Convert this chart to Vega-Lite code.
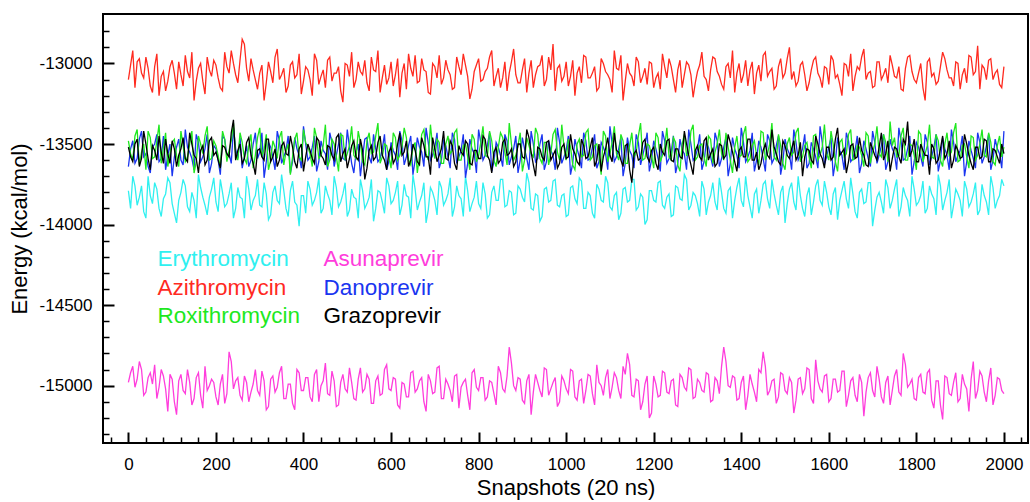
{
"$schema": "https://vega.github.io/schema/vega-lite/v6.json",
"width": 925, "height": 429,
"autosize": {"type": "none"},
"padding": {"left": 103, "top": 14, "right": 2, "bottom": 59},
"background": "white",
"config": {
  "font": "Liberation Sans",
  "view": {"stroke": "black", "strokeWidth": 2},
  "axis": {"grid": false, "domain": false, "tickColor": "black", "labelColor": "black", "titleColor": "black", "labelFontSize": 17, "titleFontWeight": "normal", "labelFont": "Liberation Sans", "titleFont": "Liberation Sans"}
},
"layer": [
{
"data": {"values": [
{"x":0,"E":-13790,"A":-13100,"R":-13480,"S":-14980,"D":-13640,"G":-13520},
{"x":10,"E":-13700,"A":-12920,"R":-13600,"S":-14880,"D":-13480,"G":-13610},
{"x":20,"E":-13880,"A":-12990,"R":-13410,"S":-14960,"D":-13590,"G":-13470},
{"x":30,"E":-13760,"A":-13060,"R":-13550,"S":-14900,"D":-13420,"G":-13590},
{"x":40,"E":-13960,"A":-12960,"R":-13660,"S":-15040,"D":-13560,"G":-13500},
{"x":50,"E":-13820,"A":-13140,"R":-13460,"S":-14920,"D":-13680,"G":-13660},
{"x":60,"E":-13740,"A":-13020,"R":-13580,"S":-14870,"D":-13500,"G":-13540},
{"x":70,"E":-13900,"A":-13200,"R":-13380,"S":-15010,"D":-13610,"G":-13450},
{"x":80,"E":-13840,"A":-13050,"R":-13520,"S":-14940,"D":-13450,"G":-13620},
{"x":90,"E":-13710,"A":-13110,"R":-13640,"S":-15160,"D":-13570,"G":-13560},
{"x":100,"E":-13870,"A":-12980,"R":-13490,"S":-14960,"D":-13700,"G":-13480},
{"x":110,"E":-13990,"A":-13160,"R":-13570,"S":-15180,"D":-13520,"G":-13640},
{"x":120,"E":-13800,"A":-13070,"R":-13420,"S":-14930,"D":-13600,"G":-13530},
{"x":130,"E":-13760,"A":-12950,"R":-13610,"S":-15050,"D":-13410,"G":-13590},
{"x":140,"E":-13920,"A":-13090,"R":-13500,"S":-14980,"D":-13550,"G":-13430},
{"x":150,"E":-13850,"A":-13230,"R":-13680,"S":-15080,"D":-13660,"G":-13570},
{"x":160,"E":-13690,"A":-13030,"R":-13450,"S":-14920,"D":-13490,"G":-13680},
{"x":170,"E":-13830,"A":-13110,"R":-13560,"S":-15140,"D":-13580,"G":-13510},
{"x":180,"E":-13940,"A":-12960,"R":-13390,"S":-15030,"D":-13440,"G":-13600},
{"x":190,"E":-13780,"A":-13080,"R":-13590,"S":-14960,"D":-13620,"G":-13460},
{"x":200,"E":-13860,"A":-13010,"R":-13510,"S":-15070,"D":-13530,"G":-13550},
{"x":210,"E":-13720,"A":-13150,"R":-13650,"S":-14990,"D":-13690,"G":-13650},
{"x":220,"E":-13890,"A":-12930,"R":-13470,"S":-15110,"D":-13470,"G":-13520},
{"x":230,"E":-13810,"A":-13060,"R":-13540,"S":-14790,"D":-13560,"G":-13580},
{"x":240,"E":-13960,"A":-13000,"R":-13370,"S":-15020,"D":-13400,"G":-13350},
{"x":250,"E":-13770,"A":-13120,"R":-13600,"S":-14950,"D":-13590,"G":-13540},
{"x":260,"E":-13840,"A":-12850,"R":-13490,"S":-15090,"D":-13650,"G":-13620},
{"x":270,"E":-13700,"A":-13030,"R":-13620,"S":-14980,"D":-13510,"G":-13490},
{"x":280,"E":-13910,"A":-12970,"R":-13440,"S":-15040,"D":-13600,"G":-13570},
{"x":290,"E":-13820,"A":-13100,"R":-13570,"S":-14900,"D":-13430,"G":-13690},
{"x":300,"E":-13880,"A":-13060,"R":-13400,"S":-15060,"D":-13550,"G":-13530},
{"x":310,"E":-13740,"A":-13230,"R":-13530,"S":-14970,"D":-13710,"G":-13600},
{"x":320,"E":-13970,"A":-12990,"R":-13660,"S":-15130,"D":-13490,"G":-13470},
{"x":330,"E":-13800,"A":-13120,"R":-13480,"S":-14940,"D":-13580,"G":-13580},
{"x":340,"E":-13850,"A":-12910,"R":-13590,"S":-15010,"D":-13420,"G":-13640},
{"x":350,"E":-13690,"A":-13070,"R":-13420,"S":-14880,"D":-13620,"G":-13510},
{"x":360,"E":-13900,"A":-13180,"R":-13550,"S":-15080,"D":-13540,"G":-13560},
{"x":370,"E":-13790,"A":-13010,"R":-13690,"S":-14990,"D":-13680,"G":-13450},
{"x":380,"E":-13860,"A":-13090,"R":-13470,"S":-15150,"D":-13460,"G":-13610},
{"x":390,"E":-14010,"A":-12940,"R":-13580,"S":-14920,"D":-13570,"G":-13530},
{"x":400,"E":-13820,"A":-13110,"R":-13410,"S":-15030,"D":-13390,"G":-13670},
{"x":410,"E":-13730,"A":-13040,"R":-13520,"S":-14950,"D":-13600,"G":-13500},
{"x":420,"E":-13880,"A":-13200,"R":-13640,"S":-15100,"D":-13520,"G":-13590},
{"x":430,"E":-13800,"A":-12980,"R":-13460,"S":-14900,"D":-13670,"G":-13460},
{"x":440,"E":-13930,"A":-13080,"R":-13570,"S":-15000,"D":-13480,"G":-13570},
{"x":450,"E":-13760,"A":-13150,"R":-13380,"S":-14860,"D":-13560,"G":-13630},
{"x":460,"E":-13850,"A":-12960,"R":-13600,"S":-15060,"D":-13430,"G":-13520},
{"x":470,"E":-13700,"A":-13060,"R":-13500,"S":-14970,"D":-13640,"G":-13600},
{"x":480,"E":-13890,"A":-13020,"R":-13670,"S":-15120,"D":-13500,"G":-13440},
{"x":490,"E":-13810,"A":-13240,"R":-13450,"S":-14930,"D":-13590,"G":-13560},
{"x":500,"E":-13950,"A":-13010,"R":-13560,"S":-15040,"D":-13410,"G":-13650},
{"x":510,"E":-13780,"A":-12930,"R":-13390,"S":-14980,"D":-13620,"G":-13510},
{"x":520,"E":-13840,"A":-13100,"R":-13590,"S":-15090,"D":-13550,"G":-13580},
{"x":530,"E":-13720,"A":-13050,"R":-13490,"S":-14890,"D":-13700,"G":-13470},
{"x":540,"E":-13900,"A":-12980,"R":-13630,"S":-15020,"D":-13470,"G":-13720},
{"x":550,"E":-13830,"A":-13170,"R":-13430,"S":-14960,"D":-13580,"G":-13540},
{"x":560,"E":-13980,"A":-13040,"R":-13550,"S":-15110,"D":-13440,"G":-13600},
{"x":570,"E":-13790,"A":-12920,"R":-13370,"S":-14940,"D":-13610,"G":-13490},
{"x":580,"E":-13860,"A":-13090,"R":-13580,"S":-15050,"D":-13530,"G":-13570},
{"x":590,"E":-13710,"A":-13130,"R":-13510,"S":-14870,"D":-13660,"G":-13660},
{"x":600,"E":-13870,"A":-12990,"R":-13650,"S":-15030,"D":-13490,"G":-13520},
{"x":610,"E":-13800,"A":-13070,"R":-13460,"S":-14960,"D":-13570,"G":-13590},
{"x":620,"E":-13940,"A":-13210,"R":-13570,"S":-15140,"D":-13420,"G":-13430},
{"x":630,"E":-13750,"A":-13000,"R":-13400,"S":-14990,"D":-13630,"G":-13550},
{"x":640,"E":-13830,"A":-12940,"R":-13600,"S":-15070,"D":-13510,"G":-13640},
{"x":650,"E":-13690,"A":-13080,"R":-13520,"S":-14910,"D":-13690,"G":-13500},
{"x":660,"E":-13910,"A":-13120,"R":-13680,"S":-15020,"D":-13460,"G":-13610},
{"x":670,"E":-13820,"A":-12970,"R":-13440,"S":-14950,"D":-13550,"G":-13460},
{"x":680,"E":-13990,"A":-13050,"R":-13560,"S":-15160,"D":-13400,"G":-13580},
{"x":690,"E":-13770,"A":-13190,"R":-13380,"S":-14970,"D":-13600,"G":-13690},
{"x":700,"E":-13850,"A":-13020,"R":-13590,"S":-15040,"D":-13520,"G":-13530},
{"x":710,"E":-13730,"A":-12950,"R":-13490,"S":-14880,"D":-13650,"G":-13570},
{"x":720,"E":-13880,"A":-13090,"R":-13620,"S":-15080,"D":-13480,"G":-13420},
{"x":730,"E":-13810,"A":-13040,"R":-13450,"S":-14990,"D":-13580,"G":-13600},
{"x":740,"E":-13950,"A":-13160,"R":-13540,"S":-15100,"D":-13430,"G":-13510},
{"x":750,"E":-13760,"A":-12960,"R":-13410,"S":-14930,"D":-13620,"G":-13660},
{"x":760,"E":-13840,"A":-13070,"R":-13600,"S":-15010,"D":-13540,"G":-13550},
{"x":770,"E":-13700,"A":-13010,"R":-13500,"S":-14960,"D":-13710,"G":-13480},
{"x":780,"E":-13920,"A":-13220,"R":-13660,"S":-15150,"D":-13470,"G":-13620},
{"x":790,"E":-13830,"A":-13050,"R":-13470,"S":-14900,"D":-13560,"G":-13540},
{"x":800,"E":-13870,"A":-12970,"R":-13570,"S":-15030,"D":-13410,"G":-13590},
{"x":810,"E":-13740,"A":-13100,"R":-13390,"S":-14950,"D":-13600,"G":-13450},
{"x":820,"E":-13960,"A":-13030,"R":-13580,"S":-15070,"D":-13510,"G":-13570},
{"x":830,"E":-13800,"A":-12920,"R":-13480,"S":-14980,"D":-13670,"G":-13680},
{"x":840,"E":-13850,"A":-13080,"R":-13640,"S":-15120,"D":-13490,"G":-13520},
{"x":850,"E":-13720,"A":-13150,"R":-13430,"S":-14920,"D":-13570,"G":-13600},
{"x":860,"E":-13890,"A":-12990,"R":-13550,"S":-15040,"D":-13440,"G":-13470},
{"x":870,"E":-13790,"A":-13060,"R":-13370,"S":-14760,"D":-13630,"G":-13560},
{"x":880,"E":-13940,"A":-12910,"R":-13600,"S":-15000,"D":-13530,"G":-13640},
{"x":890,"E":-13760,"A":-13120,"R":-13510,"S":-14950,"D":-13680,"G":-13500},
{"x":900,"E":-13830,"A":-13040,"R":-13670,"S":-15090,"D":-13460,"G":-13580},
{"x":910,"E":-13680,"A":-13180,"R":-13460,"S":-14970,"D":-13590,"G":-13410},
{"x":920,"E":-13900,"A":-12980,"R":-13560,"S":-15180,"D":-13420,"G":-13550},
{"x":930,"E":-13810,"A":-13070,"R":-13400,"S":-14930,"D":-13610,"G":-13700},
{"x":940,"E":-13980,"A":-13010,"R":-13590,"S":-15030,"D":-13500,"G":-13530},
{"x":950,"E":-13780,"A":-13140,"R":-13490,"S":-14890,"D":-13660,"G":-13600},
{"x":960,"E":-13860,"A":-12960,"R":-13630,"S":-15060,"D":-13480,"G":-13480},
{"x":970,"E":-13730,"A":-12880,"R":-13440,"S":-14980,"D":-13570,"G":-13570},
{"x":980,"E":-13880,"A":-13030,"R":-13550,"S":-15130,"D":-13400,"G":-13650},
{"x":990,"E":-13820,"A":-13110,"R":-13380,"S":-14940,"D":-13620,"G":-13520},
{"x":1000,"E":-13950,"A":-12990,"R":-13600,"S":-15020,"D":-13540,"G":-13590},
{"x":1010,"E":-13770,"A":-13080,"R":-13520,"S":-14900,"D":-13690,"G":-13440},
{"x":1020,"E":-13840,"A":-13200,"R":-13660,"S":-15070,"D":-13470,"G":-13560},
{"x":1030,"E":-13710,"A":-13020,"R":-13470,"S":-14970,"D":-13580,"G":-13630},
{"x":1040,"E":-13900,"A":-12950,"R":-13570,"S":-15110,"D":-13430,"G":-13510},
{"x":1050,"E":-13800,"A":-13090,"R":-13410,"S":-14930,"D":-13600,"G":-13580},
{"x":1060,"E":-13930,"A":-13060,"R":-13580,"S":-15050,"D":-13520,"G":-13460},
{"x":1070,"E":-13750,"A":-13170,"R":-13500,"S":-14870,"D":-13650,"G":-13600},
{"x":1080,"E":-13850,"A":-12970,"R":-13690,"S":-15000,"D":-13490,"G":-13670},
{"x":1090,"E":-13700,"A":-13050,"R":-13450,"S":-14950,"D":-13560,"G":-13530},
{"x":1100,"E":-13890,"A":-13100,"R":-13560,"S":-15080,"D":-13390,"G":-13570},
{"x":1110,"E":-13820,"A":-12920,"R":-13390,"S":-14920,"D":-13610,"G":-13430},
{"x":1120,"E":-13970,"A":-13040,"R":-13600,"S":-15030,"D":-13530,"G":-13550},
{"x":1130,"E":-13780,"A":-13230,"R":-13480,"S":-14880,"D":-13700,"G":-13640},
{"x":1140,"E":-13860,"A":-13000,"R":-13620,"S":-14800,"D":-13460,"G":-13500},
{"x":1150,"E":-13720,"A":-13080,"R":-13430,"S":-15060,"D":-13570,"G":-13740},
{"x":1160,"E":-13910,"A":-12960,"R":-13550,"S":-14960,"D":-13440,"G":-13540},
{"x":1170,"E":-13810,"A":-13120,"R":-13370,"S":-15150,"D":-13630,"G":-13590},
{"x":1180,"E":-14000,"A":-13030,"R":-13590,"S":-14990,"D":-13510,"G":-13470},
{"x":1190,"E":-13790,"A":-12990,"R":-13510,"S":-15200,"D":-13670,"G":-13610},
{"x":1200,"E":-13850,"A":-13150,"R":-13650,"S":-14940,"D":-13480,"G":-13520},
{"x":1210,"E":-13740,"A":-13060,"R":-13460,"S":-15070,"D":-13590,"G":-13660},
{"x":1220,"E":-13880,"A":-12940,"R":-13570,"S":-14910,"D":-13420,"G":-13550},
{"x":1230,"E":-13830,"A":-13090,"R":-13400,"S":-15040,"D":-13620,"G":-13480},
{"x":1240,"E":-13950,"A":-13020,"R":-13600,"S":-14970,"D":-13550,"G":-13600},
{"x":1250,"E":-13760,"A":-13180,"R":-13490,"S":-15120,"D":-13680,"G":-13530},
{"x":1260,"E":-13840,"A":-12980,"R":-13670,"S":-14930,"D":-13470,"G":-13580},
{"x":1270,"E":-13690,"A":-13070,"R":-13440,"S":-15010,"D":-13560,"G":-13420},
{"x":1280,"E":-13910,"A":-13010,"R":-13560,"S":-14890,"D":-13410,"G":-13570},
{"x":1290,"E":-13800,"A":-13210,"R":-13380,"S":-15080,"D":-13600,"G":-13690},
{"x":1300,"E":-13870,"A":-13050,"R":-13580,"S":-14960,"D":-13530,"G":-13510},
{"x":1310,"E":-13730,"A":-12930,"R":-13500,"S":-15030,"D":-13660,"G":-13600},
{"x":1320,"E":-13940,"A":-13100,"R":-13640,"S":-14920,"D":-13490,"G":-13460},
{"x":1330,"E":-13820,"A":-13040,"R":-13470,"S":-15100,"D":-13580,"G":-13560},
{"x":1340,"E":-13860,"A":-12970,"R":-13550,"S":-14950,"D":-13430,"G":-13640},
{"x":1350,"E":-13710,"A":-13080,"R":-13410,"S":-15050,"D":-13640,"G":-13500},
{"x":1360,"E":-13900,"A":-13160,"R":-13600,"S":-14760,"D":-13520,"G":-13590},
{"x":1370,"E":-13790,"A":-13000,"R":-13520,"S":-15000,"D":-13700,"G":-13440},
{"x":1380,"E":-13960,"A":-12920,"R":-13680,"S":-14940,"D":-13460,"G":-13550},
{"x":1390,"E":-13770,"A":-13060,"R":-13450,"S":-15090,"D":-13570,"G":-13670},
{"x":1400,"E":-13850,"A":-13120,"R":-13570,"S":-14980,"D":-13400,"G":-13520},
{"x":1410,"E":-13700,"A":-12980,"R":-13390,"S":-15150,"D":-13610,"G":-13580},
{"x":1420,"E":-13890,"A":-13040,"R":-13590,"S":-14930,"D":-13540,"G":-13470},
{"x":1430,"E":-13810,"A":-13190,"R":-13480,"S":-15040,"D":-13670,"G":-13600},
{"x":1440,"E":-13930,"A":-13010,"R":-13630,"S":-14900,"D":-13480,"G":-13660},
{"x":1450,"E":-13750,"A":-12950,"R":-13430,"S":-14790,"D":-13590,"G":-13540},
{"x":1460,"E":-13840,"A":-13080,"R":-13560,"S":-15060,"D":-13440,"G":-13570},
{"x":1470,"E":-13720,"A":-13030,"R":-13370,"S":-14970,"D":-13620,"G":-13410},
{"x":1480,"E":-13880,"A":-13140,"R":-13600,"S":-15110,"D":-13510,"G":-13560},
{"x":1490,"E":-13800,"A":-12970,"R":-13510,"S":-14920,"D":-13690,"G":-13630},
{"x":1500,"E":-13990,"A":-13060,"R":-13660,"S":-15030,"D":-13470,"G":-13510},
{"x":1510,"E":-13780,"A":-12900,"R":-13460,"S":-14950,"D":-13560,"G":-13590},
{"x":1520,"E":-13860,"A":-13050,"R":-13550,"S":-15170,"D":-13410,"G":-13480},
{"x":1530,"E":-13700,"A":-13110,"R":-13400,"S":-14960,"D":-13600,"G":-13570},
{"x":1540,"E":-13900,"A":-12990,"R":-13580,"S":-15050,"D":-13530,"G":-13700},
{"x":1550,"E":-13820,"A":-13170,"R":-13490,"S":-14890,"D":-13650,"G":-13530},
{"x":1560,"E":-13940,"A":-13040,"R":-13650,"S":-15080,"D":-13490,"G":-13600},
{"x":1570,"E":-13760,"A":-12960,"R":-13440,"S":-14840,"D":-13580,"G":-13450},
{"x":1580,"E":-13850,"A":-13090,"R":-13570,"S":-15020,"D":-13390,"G":-13560},
{"x":1590,"E":-13730,"A":-13020,"R":-13380,"S":-14940,"D":-13630,"G":-13650},
{"x":1600,"E":-13890,"A":-13130,"R":-13600,"S":-15100,"D":-13520,"G":-13520},
{"x":1610,"E":-13810,"A":-12980,"R":-13500,"S":-14960,"D":-13700,"G":-13580},
{"x":1620,"E":-13970,"A":-13070,"R":-13670,"S":-15040,"D":-13460,"G":-13400},
{"x":1630,"E":-13790,"A":-13200,"R":-13470,"S":-14910,"D":-13570,"G":-13550},
{"x":1640,"E":-13840,"A":-13010,"R":-13560,"S":-15130,"D":-13430,"G":-13680},
{"x":1650,"E":-13710,"A":-12940,"R":-13410,"S":-14970,"D":-13610,"G":-13510},
{"x":1660,"E":-13920,"A":-13080,"R":-13590,"S":-15060,"D":-13540,"G":-13590},
{"x":1670,"E":-13800,"A":-13040,"R":-13520,"S":-14930,"D":-13680,"G":-13460},
{"x":1680,"E":-13870,"A":-12910,"R":-13640,"S":-15190,"D":-13480,"G":-13570},
{"x":1690,"E":-13740,"A":-13060,"R":-13450,"S":-14950,"D":-13590,"G":-13640},
{"x":1700,"E":-14010,"A":-13150,"R":-13550,"S":-15030,"D":-13420,"G":-13530},
{"x":1710,"E":-13830,"A":-12990,"R":-13390,"S":-14880,"D":-13620,"G":-13600},
{"x":1720,"E":-13860,"A":-13100,"R":-13580,"S":-15070,"D":-13510,"G":-13430},
{"x":1730,"E":-13720,"A":-13030,"R":-13490,"S":-14980,"D":-13660,"G":-13560},
{"x":1740,"E":-13900,"A":-12950,"R":-13360,"S":-15120,"D":-13470,"G":-13670},
{"x":1750,"E":-13780,"A":-13080,"R":-13460,"S":-14940,"D":-13560,"G":-13520},
{"x":1760,"E":-13950,"A":-13020,"R":-13570,"S":-15040,"D":-13400,"G":-13580},
{"x":1770,"E":-13770,"A":-13170,"R":-13400,"S":-14800,"D":-13600,"G":-13470},
{"x":1780,"E":-13850,"A":-12960,"R":-13600,"S":-15010,"D":-13530,"G":-13360},
{"x":1790,"E":-13700,"A":-13050,"R":-13510,"S":-14960,"D":-13690,"G":-13540},
{"x":1800,"E":-13880,"A":-13120,"R":-13660,"S":-15090,"D":-13490,"G":-13610},
{"x":1810,"E":-13820,"A":-13000,"R":-13440,"S":-14930,"D":-13580,"G":-13500},
{"x":1820,"E":-13930,"A":-13230,"R":-13560,"S":-15050,"D":-13440,"G":-13570},
{"x":1830,"E":-13760,"A":-12970,"R":-13380,"S":-14900,"D":-13630,"G":-13690},
{"x":1840,"E":-13840,"A":-13060,"R":-13590,"S":-15140,"D":-13520,"G":-13530},
{"x":1850,"E":-13690,"A":-13110,"R":-13480,"S":-14970,"D":-13670,"G":-13600},
{"x":1860,"E":-13910,"A":-12930,"R":-13640,"S":-15210,"D":-13460,"G":-13450},
{"x":1870,"E":-13800,"A":-13040,"R":-13430,"S":-14950,"D":-13570,"G":-13560},
{"x":1880,"E":-13960,"A":-13090,"R":-13550,"S":-15060,"D":-13410,"G":-13650},
{"x":1890,"E":-13780,"A":-12990,"R":-13370,"S":-14920,"D":-13610,"G":-13510},
{"x":1900,"E":-13850,"A":-13160,"R":-13600,"S":-15080,"D":-13540,"G":-13590},
{"x":1910,"E":-13730,"A":-13030,"R":-13500,"S":-14990,"D":-13700,"G":-13440},
{"x":1920,"E":-13890,"A":-12950,"R":-13650,"S":-15160,"D":-13480,"G":-13570},
{"x":1930,"E":-13810,"A":-13070,"R":-13460,"S":-14850,"D":-13590,"G":-13660},
{"x":1940,"E":-13940,"A":-12890,"R":-13570,"S":-15030,"D":-13430,"G":-13520},
{"x":1950,"E":-13750,"A":-13010,"R":-13410,"S":-14940,"D":-13620,"G":-13580},
{"x":1960,"E":-13860,"A":-13100,"R":-13580,"S":-15100,"D":-13510,"G":-13480},
{"x":1970,"E":-13700,"A":-12970,"R":-13490,"S":-14890,"D":-13660,"G":-13610},
{"x":1980,"E":-13900,"A":-13060,"R":-13630,"S":-15060,"D":-13470,"G":-13540},
{"x":1990,"E":-13820,"A":-13130,"R":-13450,"S":-14960,"D":-13560,"G":-13620},
{"x":2000,"E":-13760,"A":-13020,"R":-13520,"S":-15050,"D":-13420,"G":-13560},
{"x":5,"E":-13900,"A":-13010,"R":-13560,"S":-14920,"D":-13530,"G":-13580},
{"x":15,"E":-13760,"A":-13150,"R":-13450,"S":-15010,"D":-13620,"G":-13500},
{"x":25,"E":-13830,"A":-12970,"R":-13630,"S":-14850,"D":-13470,"G":-13640},
{"x":35,"E":-13920,"A":-13090,"R":-13500,"S":-15060,"D":-13580,"G":-13420},
{"x":45,"E":-13700,"A":-13030,"R":-13420,"S":-14950,"D":-13640,"G":-13590},
{"x":55,"E":-13870,"A":-13180,"R":-13590,"S":-14990,"D":-13520,"G":-13510},
{"x":65,"E":-13780,"A":-12940,"R":-13480,"S":-15080,"D":-13440,"G":-13600},
{"x":75,"E":-13950,"A":-13080,"R":-13620,"S":-14900,"D":-13590,"G":-13550},
{"x":85,"E":-13810,"A":-13170,"R":-13430,"S":-15020,"D":-13660,"G":-13470},
{"x":95,"E":-13740,"A":-13020,"R":-13560,"S":-14930,"D":-13500,"G":-13620},
{"x":105,"E":-13930,"A":-13060,"R":-13470,"S":-15100,"D":-13580,"G":-13530},
{"x":115,"E":-13850,"A":-12990,"R":-13640,"S":-14970,"D":-13470,"G":-13570},
{"x":125,"E":-13720,"A":-13140,"R":-13510,"S":-15030,"D":-13630,"G":-13460},
{"x":135,"E":-13890,"A":-13050,"R":-13580,"S":-14900,"D":-13520,"G":-13610},
{"x":145,"E":-13800,"A":-12930,"R":-13420,"S":-15120,"D":-13590,"G":-13500},
{"x":155,"E":-13960,"A":-13110,"R":-13610,"S":-14950,"D":-13440,"G":-13590},
{"x":165,"E":-13770,"A":-13000,"R":-13500,"S":-15060,"D":-13610,"G":-13540},
{"x":175,"E":-13880,"A":-13190,"R":-13450,"S":-14880,"D":-13530,"G":-13630},
{"x":185,"E":-13830,"A":-13040,"R":-13600,"S":-15000,"D":-13680,"G":-13480},
{"x":195,"E":-13710,"A":-12980,"R":-13480,"S":-14980,"D":-13510,"G":-13570},
{"x":205,"E":-13920,"A":-13090,"R":-13570,"S":-15120,"D":-13600,"G":-13600},
{"x":215,"E":-13800,"A":-13170,"R":-13420,"S":-14930,"D":-13450,"G":-13510},
{"x":225,"E":-13870,"A":-13020,"R":-13610,"S":-15050,"D":-13570,"G":-13560},
{"x":235,"E":-13740,"A":-12920,"R":-13480,"S":-14850,"D":-13620,"G":-13430},
{"x":245,"E":-13900,"A":-13070,"R":-13560,"S":-14970,"D":-13530,"G":-13600},
{"x":255,"E":-13830,"A":-12980,"R":-13430,"S":-15060,"D":-13460,"G":-13500},
{"x":265,"E":-13960,"A":-12880,"R":-13590,"S":-14940,"D":-13580,"G":-13590},
{"x":275,"E":-13780,"A":-13110,"R":-13510,"S":-15100,"D":-13640,"G":-13460},
{"x":285,"E":-13850,"A":-13040,"R":-13650,"S":-14990,"D":-13500,"G":-13620},
{"x":295,"E":-13720,"A":-13160,"R":-13460,"S":-15030,"D":-13590,"G":-13540},
{"x":305,"E":-13890,"A":-13010,"R":-13580,"S":-14910,"D":-13430,"G":-13580},
{"x":315,"E":-13810,"A":-13120,"R":-13440,"S":-15150,"D":-13610,"G":-13470},
{"x":325,"E":-13940,"A":-13050,"R":-13600,"S":-14960,"D":-13520,"G":-13610},
{"x":335,"E":-13760,"A":-12960,"R":-13520,"S":-15040,"D":-13660,"G":-13530},
{"x":345,"E":-13870,"A":-13100,"R":-13460,"S":-14920,"D":-13480,"G":-13600},
{"x":355,"E":-13790,"A":-13030,"R":-13630,"S":-15080,"D":-13580,"G":-13490},
{"x":365,"E":-13950,"A":-13140,"R":-13500,"S":-14990,"D":-13450,"G":-13570},
{"x":375,"E":-13730,"A":-12990,"R":-13580,"S":-15110,"D":-13610,"G":-13520},
{"x":385,"E":-13880,"A":-13070,"R":-13430,"S":-14900,"D":-13530,"G":-13650},
{"x":395,"E":-13820,"A":-13190,"R":-13600,"S":-15030,"D":-13650,"G":-13500},
{"x":405,"E":-13930,"A":-13020,"R":-13490,"S":-14950,"D":-13500,"G":-13580},
{"x":415,"E":-13780,"A":-13100,"R":-13560,"S":-15070,"D":-13580,"G":-13540},
{"x":425,"E":-13850,"A":-12940,"R":-13400,"S":-14930,"D":-13450,"G":-13620},
{"x":435,"E":-13710,"A":-13130,"R":-13590,"S":-15100,"D":-13610,"G":-13480},
{"x":445,"E":-13900,"A":-13040,"R":-13510,"S":-14970,"D":-13540,"G":-13590},
{"x":455,"E":-13810,"A":-12980,"R":-13640,"S":-15050,"D":-13660,"G":-13510},
{"x":465,"E":-13940,"A":-13110,"R":-13470,"S":-14910,"D":-13490,"G":-13570},
{"x":475,"E":-13770,"A":-13060,"R":-13580,"S":-15130,"D":-13570,"G":-13460},
{"x":485,"E":-13860,"A":-13170,"R":-13440,"S":-14980,"D":-13430,"G":-13610},
{"x":495,"E":-13740,"A":-13000,"R":-13600,"S":-15020,"D":-13600,"G":-13530},
{"x":505,"E":-13910,"A":-13080,"R":-13510,"S":-14890,"D":-13520,"G":-13590},
{"x":515,"E":-13830,"A":-13150,"R":-13570,"S":-15080,"D":-13680,"G":-13480},
{"x":525,"E":-13960,"A":-12990,"R":-13420,"S":-14960,"D":-13500,"G":-13600},
{"x":535,"E":-13790,"A":-13070,"R":-13610,"S":-15040,"D":-13580,"G":-13540},
{"x":545,"E":-13870,"A":-13120,"R":-13480,"S":-14930,"D":-13460,"G":-13650},
{"x":555,"E":-13720,"A":-12960,"R":-13560,"S":-15110,"D":-13620,"G":-13510},
{"x":565,"E":-13900,"A":-13050,"R":-13450,"S":-14970,"D":-13530,"G":-13580},
{"x":575,"E":-13800,"A":-13180,"R":-13620,"S":-15060,"D":-13590,"G":-13450},
{"x":585,"E":-13930,"A":-13010,"R":-13500,"S":-14900,"D":-13440,"G":-13600},
{"x":595,"E":-13760,"A":-13090,"R":-13580,"S":-15020,"D":-13610,"G":-13550},
{"x":605,"E":-13850,"A":-13140,"R":-13430,"S":-14950,"D":-13540,"G":-13620},
{"x":615,"E":-13730,"A":-12970,"R":-13600,"S":-15120,"D":-13660,"G":-13500},
{"x":625,"E":-13880,"A":-13060,"R":-13520,"S":-14980,"D":-13480,"G":-13570},
{"x":635,"E":-13820,"A":-13160,"R":-13460,"S":-15070,"D":-13580,"G":-13480},
{"x":645,"E":-13960,"A":-13030,"R":-13630,"S":-14920,"D":-13450,"G":-13600},
{"x":655,"E":-13780,"A":-12950,"R":-13490,"S":-15040,"D":-13600,"G":-13540},
{"x":665,"E":-13860,"A":-13110,"R":-13570,"S":-14970,"D":-13520,"G":-13630},
{"x":675,"E":-13740,"A":-13040,"R":-13410,"S":-15100,"D":-13640,"G":-13510},
{"x":685,"E":-13910,"A":-13180,"R":-13600,"S":-14930,"D":-13490,"G":-13580},
{"x":695,"E":-13800,"A":-13000,"R":-13520,"S":-15050,"D":-13570,"G":-13460},
{"x":705,"E":-13940,"A":-13090,"R":-13470,"S":-14890,"D":-13430,"G":-13610},
{"x":715,"E":-13770,"A":-13130,"R":-13620,"S":-15080,"D":-13600,"G":-13530},
{"x":725,"E":-13850,"A":-12980,"R":-13500,"S":-14960,"D":-13510,"G":-13590},
{"x":735,"E":-13710,"A":-13070,"R":-13560,"S":-15030,"D":-13650,"G":-13480},
{"x":745,"E":-13890,"A":-13150,"R":-13430,"S":-14940,"D":-13470,"G":-13620},
{"x":755,"E":-13820,"A":-13020,"R":-13600,"S":-15140,"D":-13580,"G":-13510},
{"x":765,"E":-13950,"A":-12940,"R":-13510,"S":-14980,"D":-13440,"G":-13570},
{"x":775,"E":-13790,"A":-13080,"R":-13580,"S":-15060,"D":-13620,"G":-13500},
{"x":785,"E":-13870,"A":-13160,"R":-13440,"S":-14920,"D":-13530,"G":-13630},
{"x":795,"E":-13730,"A":-13010,"R":-13610,"S":-15010,"D":-13680,"G":-13540},
{"x":805,"E":-13900,"A":-13110,"R":-13490,"S":-14950,"D":-13490,"G":-13590},
{"x":815,"E":-13810,"A":-13050,"R":-13570,"S":-15090,"D":-13570,"G":-13470},
{"x":825,"E":-13940,"A":-12960,"R":-13420,"S":-14970,"D":-13430,"G":-13600},
{"x":835,"E":-13760,"A":-13140,"R":-13600,"S":-15050,"D":-13610,"G":-13550},
{"x":845,"E":-13850,"A":-13030,"R":-13520,"S":-14880,"D":-13520,"G":-13620},
{"x":855,"E":-13720,"A":-13090,"R":-13460,"S":-15020,"D":-13640,"G":-13490},
{"x":865,"E":-13880,"A":-13170,"R":-13630,"S":-14940,"D":-13480,"G":-13570},
{"x":875,"E":-13800,"A":-12990,"R":-13500,"S":-14860,"D":-13580,"G":-13530},
{"x":885,"E":-13930,"A":-13070,"R":-13570,"S":-15030,"D":-13450,"G":-13610},
{"x":895,"E":-13780,"A":-13120,"R":-13430,"S":-14960,"D":-13600,"G":-13500},
{"x":905,"E":-13860,"A":-12970,"R":-13600,"S":-15110,"D":-13530,"G":-13590},
{"x":915,"E":-13740,"A":-13060,"R":-13510,"S":-14930,"D":-13660,"G":-13460},
{"x":925,"E":-13910,"A":-13150,"R":-13580,"S":-15040,"D":-13500,"G":-13630},
{"x":935,"E":-13820,"A":-13020,"R":-13440,"S":-14980,"D":-13590,"G":-13520},
{"x":945,"E":-13950,"A":-12950,"R":-13620,"S":-15070,"D":-13440,"G":-13580},
{"x":955,"E":-13770,"A":-13100,"R":-13490,"S":-14900,"D":-13610,"G":-13490},
{"x":965,"E":-13850,"A":-13040,"R":-13560,"S":-15020,"D":-13540,"G":-13600},
{"x":975,"E":-13720,"A":-13170,"R":-13410,"S":-14950,"D":-13660,"G":-13540},
{"x":985,"E":-13890,"A":-13010,"R":-13600,"S":-15100,"D":-13490,"G":-13620},
{"x":995,"E":-13810,"A":-13080,"R":-13520,"S":-14970,"D":-13580,"G":-13500},
{"x":1005,"E":-13940,"A":-13140,"R":-13470,"S":-15050,"D":-13450,"G":-13580},
{"x":1015,"E":-13760,"A":-12980,"R":-13630,"S":-14910,"D":-13620,"G":-13530},
{"x":1025,"E":-13870,"A":-13060,"R":-13500,"S":-15090,"D":-13530,"G":-13610},
{"x":1035,"E":-13730,"A":-13120,"R":-13580,"S":-14960,"D":-13650,"G":-13470},
{"x":1045,"E":-13900,"A":-12960,"R":-13430,"S":-15030,"D":-13480,"G":-13590},
{"x":1055,"E":-13820,"A":-13090,"R":-13600,"S":-14940,"D":-13590,"G":-13520},
{"x":1065,"E":-13960,"A":-13020,"R":-13510,"S":-15120,"D":-13440,"G":-13640},
{"x":1075,"E":-13780,"A":-13150,"R":-13570,"S":-14980,"D":-13610,"G":-13500},
{"x":1085,"E":-13860,"A":-13000,"R":-13420,"S":-15060,"D":-13520,"G":-13580},
{"x":1095,"E":-13740,"A":-13070,"R":-13610,"S":-14900,"D":-13660,"G":-13460},
{"x":1105,"E":-13910,"A":-13180,"R":-13490,"S":-15010,"D":-13500,"G":-13610},
{"x":1115,"E":-13800,"A":-13030,"R":-13560,"S":-14950,"D":-13580,"G":-13540},
{"x":1125,"E":-13930,"A":-12950,"R":-13440,"S":-15080,"D":-13460,"G":-13600},
{"x":1135,"E":-13770,"A":-13110,"R":-13620,"S":-14930,"D":-13620,"G":-13510},
{"x":1145,"E":-13850,"A":-13060,"R":-13510,"S":-14870,"D":-13540,"G":-13660},
{"x":1155,"E":-13720,"A":-13140,"R":-13580,"S":-15070,"D":-13650,"G":-13560},
{"x":1165,"E":-13890,"A":-12990,"R":-13450,"S":-14970,"D":-13490,"G":-13600},
{"x":1175,"E":-13830,"A":-13080,"R":-13600,"S":-15100,"D":-13570,"G":-13490},
{"x":1185,"E":-13970,"A":-13130,"R":-13500,"S":-14940,"D":-13430,"G":-13580},
{"x":1195,"E":-13790,"A":-13000,"R":-13570,"S":-15170,"D":-13600,"G":-13540},
{"x":1205,"E":-13860,"A":-13090,"R":-13430,"S":-14990,"D":-13530,"G":-13620},
{"x":1215,"E":-13730,"A":-13160,"R":-13610,"S":-15060,"D":-13670,"G":-13500},
{"x":1225,"E":-13900,"A":-13020,"R":-13520,"S":-14920,"D":-13480,"G":-13570},
{"x":1235,"E":-13810,"A":-12970,"R":-13580,"S":-15050,"D":-13590,"G":-13470},
{"x":1245,"E":-13940,"A":-13100,"R":-13460,"S":-14960,"D":-13450,"G":-13610},
{"x":1255,"E":-13770,"A":-13040,"R":-13630,"S":-15130,"D":-13620,"G":-13530},
{"x":1265,"E":-13850,"A":-13150,"R":-13500,"S":-14950,"D":-13540,"G":-13590},
{"x":1275,"E":-13720,"A":-12990,"R":-13570,"S":-15030,"D":-13660,"G":-13500},
{"x":1285,"E":-13880,"A":-13070,"R":-13420,"S":-14900,"D":-13500,"G":-13630},
{"x":1295,"E":-13820,"A":-13120,"R":-13600,"S":-15070,"D":-13580,"G":-13540},
{"x":1305,"E":-13950,"A":-13010,"R":-13510,"S":-14980,"D":-13440,"G":-13580},
{"x":1315,"E":-13780,"A":-13080,"R":-13580,"S":-15040,"D":-13610,"G":-13480},
{"x":1325,"E":-13860,"A":-13170,"R":-13450,"S":-14930,"D":-13520,"G":-13600},
{"x":1335,"E":-13740,"A":-12960,"R":-13620,"S":-15090,"D":-13640,"G":-13530},
{"x":1345,"E":-13910,"A":-13050,"R":-13500,"S":-14970,"D":-13480,"G":-13620},
{"x":1355,"E":-13800,"A":-13130,"R":-13560,"S":-14880,"D":-13590,"G":-13510},
{"x":1365,"E":-13930,"A":-13020,"R":-13430,"S":-14850,"D":-13460,"G":-13570},
{"x":1375,"E":-13770,"A":-13090,"R":-13600,"S":-15010,"D":-13620,"G":-13490},
{"x":1385,"E":-13850,"A":-13180,"R":-13520,"S":-14950,"D":-13530,"G":-13610},
{"x":1395,"E":-13710,"A":-13000,"R":-13580,"S":-15080,"D":-13650,"G":-13540},
{"x":1405,"E":-13890,"A":-13070,"R":-13440,"S":-14940,"D":-13490,"G":-13580},
{"x":1415,"E":-13820,"A":-13140,"R":-13610,"S":-15060,"D":-13580,"G":-13470},
{"x":1425,"E":-13960,"A":-12990,"R":-13510,"S":-14990,"D":-13430,"G":-13600},
{"x":1435,"E":-13780,"A":-13060,"R":-13570,"S":-15100,"D":-13600,"G":-13550},
{"x":1445,"E":-13850,"A":-13110,"R":-13420,"S":-14920,"D":-13520,"G":-13620},
{"x":1455,"E":-13730,"A":-12930,"R":-13600,"S":-14880,"D":-13670,"G":-13500},
{"x":1465,"E":-13900,"A":-13050,"R":-13500,"S":-15030,"D":-13480,"G":-13590},
{"x":1475,"E":-13810,"A":-13160,"R":-13580,"S":-14960,"D":-13590,"G":-13520},
{"x":1485,"E":-13940,"A":-13020,"R":-13440,"S":-15070,"D":-13450,"G":-13610},
{"x":1495,"E":-13760,"A":-13090,"R":-13620,"S":-14930,"D":-13610,"G":-13480},
{"x":1505,"E":-13870,"A":-12970,"R":-13500,"S":-15050,"D":-13530,"G":-13570},
{"x":1515,"E":-13740,"A":-13100,"R":-13570,"S":-14980,"D":-13660,"G":-13530},
{"x":1525,"E":-13910,"A":-13140,"R":-13430,"S":-15090,"D":-13490,"G":-13600},
{"x":1535,"E":-13820,"A":-13010,"R":-13610,"S":-14950,"D":-13570,"G":-13490},
{"x":1545,"E":-13950,"A":-13070,"R":-13510,"S":-15020,"D":-13440,"G":-13580},
{"x":1555,"E":-13770,"A":-13120,"R":-13580,"S":-14900,"D":-13620,"G":-13540},
{"x":1565,"E":-13860,"A":-12980,"R":-13450,"S":-15110,"D":-13530,"G":-13620},
{"x":1575,"E":-13720,"A":-13060,"R":-13600,"S":-14970,"D":-13650,"G":-13500},
{"x":1585,"E":-13880,"A":-13150,"R":-13520,"S":-15040,"D":-13490,"G":-13590},
{"x":1595,"E":-13800,"A":-13030,"R":-13560,"S":-14930,"D":-13580,"G":-13520},
{"x":1605,"E":-13940,"A":-12950,"R":-13420,"S":-15080,"D":-13460,"G":-13600},
{"x":1615,"E":-13770,"A":-13090,"R":-13610,"S":-14960,"D":-13610,"G":-13470},
{"x":1625,"E":-13850,"A":-13130,"R":-13490,"S":-15030,"D":-13540,"G":-13570},
{"x":1635,"E":-13730,"A":-13000,"R":-13580,"S":-14910,"D":-13660,"G":-13530},
{"x":1645,"E":-13900,"A":-13080,"R":-13440,"S":-15060,"D":-13480,"G":-13610},
{"x":1655,"E":-13810,"A":-13170,"R":-13600,"S":-14950,"D":-13590,"G":-13500},
{"x":1665,"E":-13960,"A":-13020,"R":-13510,"S":-15100,"D":-13450,"G":-13580},
{"x":1675,"E":-13780,"A":-12960,"R":-13570,"S":-14980,"D":-13620,"G":-13540},
{"x":1685,"E":-13860,"A":-13100,"R":-13430,"S":-15040,"D":-13530,"G":-13630},
{"x":1695,"E":-13740,"A":-13050,"R":-13620,"S":-14920,"D":-13640,"G":-13490},
{"x":1705,"E":-13910,"A":-13140,"R":-13500,"S":-15070,"D":-13490,"G":-13570},
{"x":1715,"E":-13800,"A":-12990,"R":-13560,"S":-14960,"D":-13570,"G":-13520},
{"x":1725,"E":-13930,"A":-13070,"R":-13440,"S":-15110,"D":-13440,"G":-13600},
{"x":1735,"E":-13770,"A":-13120,"R":-13610,"S":-14940,"D":-13610,"G":-13480},
{"x":1745,"E":-13850,"A":-13010,"R":-13510,"S":-15030,"D":-13530,"G":-13590},
{"x":1755,"E":-13720,"A":-13090,"R":-13580,"S":-14900,"D":-13660,"G":-13530},
{"x":1765,"E":-13890,"A":-13160,"R":-13450,"S":-15060,"D":-13480,"G":-13620},
{"x":1775,"E":-13820,"A":-13030,"R":-13600,"S":-14870,"D":-13590,"G":-13500},
{"x":1785,"E":-13950,"A":-12950,"R":-13500,"S":-14990,"D":-13450,"G":-13580},
{"x":1795,"E":-13780,"A":-13100,"R":-13570,"S":-15080,"D":-13610,"G":-13470},
{"x":1805,"E":-13860,"A":-13060,"R":-13420,"S":-14950,"D":-13520,"G":-13610},
{"x":1815,"E":-13730,"A":-13150,"R":-13610,"S":-15040,"D":-13640,"G":-13540},
{"x":1825,"E":-13900,"A":-12990,"R":-13510,"S":-14920,"D":-13490,"G":-13570},
{"x":1835,"E":-13810,"A":-13080,"R":-13580,"S":-15090,"D":-13580,"G":-13500},
{"x":1845,"E":-13940,"A":-13130,"R":-13440,"S":-14970,"D":-13440,"G":-13620},
{"x":1855,"E":-13760,"A":-13020,"R":-13600,"S":-15120,"D":-13600,"G":-13530},
{"x":1865,"E":-13850,"A":-12970,"R":-13500,"S":-14940,"D":-13530,"G":-13590},
{"x":1875,"E":-13720,"A":-13090,"R":-13570,"S":-15050,"D":-13660,"G":-13480},
{"x":1885,"E":-13880,"A":-13140,"R":-13430,"S":-14980,"D":-13490,"G":-13600},
{"x":1895,"E":-13810,"A":-13000,"R":-13610,"S":-15100,"D":-13570,"G":-13540},
{"x":1905,"E":-13950,"A":-13070,"R":-13510,"S":-14930,"D":-13450,"G":-13580},
{"x":1915,"E":-13780,"A":-13120,"R":-13580,"S":-15020,"D":-13610,"G":-13500},
{"x":1925,"E":-13860,"A":-12960,"R":-13450,"S":-14960,"D":-13540,"G":-13620},
{"x":1935,"E":-13740,"A":-13050,"R":-13600,"S":-15080,"D":-13650,"G":-13520},
{"x":1945,"E":-13910,"A":-13160,"R":-13500,"S":-14910,"D":-13490,"G":-13590},
{"x":1955,"E":-13820,"A":-13030,"R":-13570,"S":-15040,"D":-13580,"G":-13470},
{"x":1965,"E":-13940,"A":-12980,"R":-13430,"S":-14970,"D":-13440,"G":-13610},
{"x":1975,"E":-13770,"A":-13100,"R":-13610,"S":-15120,"D":-13600,"G":-13530},
{"x":1985,"E":-13850,"A":-13040,"R":-13510,"S":-14950,"D":-13530,"G":-13580},
{"x":1995,"E":-13720,"A":-13150,"R":-13580,"S":-15030,"D":-13650,"G":-13500}
]},
"transform": [{"fold": ["E", "A", "S", "D", "R", "G"], "as": ["k", "energy"]}],
"mark": {"type": "line", "strokeWidth": 1.3},
"encoding": {
  "x": {"field": "x", "type": "quantitative", "scale": {"domain": [-58, 2055], "nice": false, "zero": false},
        "axis": {"orient": "bottom", "offset": -11, "values": [0,200,400,600,800,1000,1200,1400,1600,1800,2000], "tickSize": 11, "tickWidth": 2, "labelPadding": 13, "labelExpr": "'' + datum.value", "labelFlush": false, "title": "Snapshots (20 ns)", "titleFontSize": 22, "titlePadding": 5}},
  "y": {"field": "energy", "type": "quantitative", "scale": {"domain": [-15356, -12693], "nice": false, "zero": false},
        "axis": {"orient": "left", "offset": -11, "values": [-15000,-14500,-14000,-13500,-13000], "tickSize": 11, "tickWidth": 2, "labelPadding": 11, "labelExpr": "'' + datum.value", "labelFlush": false, "title": "Energy (kcal/mol)", "titleFontSize": 22, "titlePadding": 8}},
  "color": {"field": "k", "type": "nominal",
    "scale": {"domain": ["E", "A", "R", "S", "D", "G"], "range": ["#2ff0f0", "#ff2a1f", "#1ee81e", "#ff3ddc", "#1a35f0", "#000000"]},
    "legend": {"orient": "none", "legendX": 32, "legendY": 234, "columns": 2, "title": null, "padding": 0, "symbolSize": 0, "symbolOpacity": 0, "symbolStrokeWidth": 0, "labelOffset": 0, "labelFontSize": 22.5, "labelFont": "Liberation Sans", "labelLimit": 400, "rowPadding": 5.5, "columnPadding": 0,
      "labelColor": {"expr": "scale('color', datum.value)"},
      "labelExpr": "datum.value == 'E' ? 'Erythromycin' : datum.value == 'S' ? 'Asunaprevir' : datum.value == 'A' ? 'Azithromycin' : datum.value == 'D' ? 'Danoprevir' : datum.value == 'R' ? 'Roxithromycin' : 'Grazoprevir'"}}
}
},
{
"data": {"values": [{"x": 0, "energy": -13000}]},
"mark": {"type": "point", "opacity": 0},
"encoding": {
  "x": {"field": "x", "type": "quantitative", "scale": {"domain": [-58, 2055], "nice": false, "zero": false},
        "axis": {"orient": "bottom", "offset": -6, "values": [-40,40,80,120,160,240,280,320,360,440,480,520,560,640,680,720,760,840,880,920,960,1040,1080,1120,1160,1240,1280,1320,1360,1440,1480,1520,1560,1640,1680,1720,1760,1840,1880,1920,1960,2040], "tickSize": 6, "tickWidth": 1.5, "labels": false, "title": null}},
  "y": {"field": "energy", "type": "quantitative", "scale": {"domain": [-15356, -12693], "nice": false, "zero": false},
        "axis": {"orient": "left", "offset": -6, "values": [-15300,-15200,-15100,-14900,-14800,-14700,-14600,-14400,-14300,-14200,-14100,-13900,-13800,-13700,-13600,-13400,-13300,-13200,-13100,-12900,-12800], "tickSize": 6, "tickWidth": 1.5, "labels": false, "title": null}}
}
}
],
"resolve": {"axis": {"x": "independent", "y": "independent"}}
}
